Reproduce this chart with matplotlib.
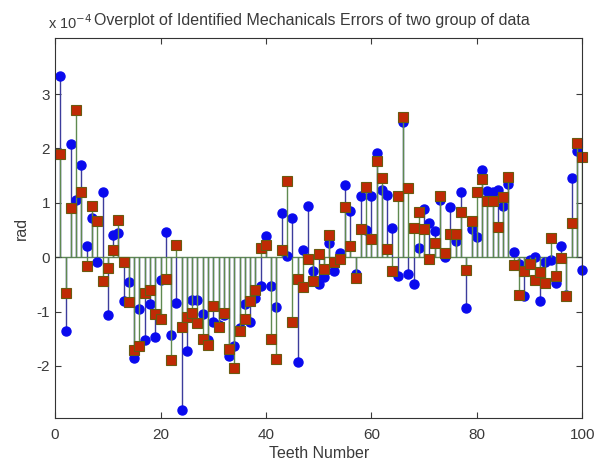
import numpy as np
import matplotlib
matplotlib.use('Agg')
import matplotlib.pyplot as plt
from matplotlib.ticker import FuncFormatter

plt.rcParams['font.family'] = ['Liberation Sans', 'DejaVu Sans']

teeth = np.arange(1, 101)

# errors of the two groups, in units of 1e-4 rad
group_a = [3.34, -1.35, 2.09, 1.06, 1.69, 0.21, 0.72, -0.08, 1.20, -1.06,
           0.41, 0.44, -0.81, -0.46, -1.85, -0.95, -1.52, -0.86, -1.47, -0.42,
           0.47, -1.44, -0.84, -2.82, -1.72, -0.79, -0.79, -1.05, -1.52, -1.20,
           -1.25, -1.06, -1.81, -1.64, -1.30, -0.87, -1.20, -0.75, -0.53, 0.39,
           -0.53, -0.92, 0.81, 0.02, 0.72, -1.93, 0.13, 0.95, -0.25, -0.50,
           -0.37, 0.26, -0.25, 0.07, 1.32, 0.85, -0.31, 1.12, 0.50, 1.12,
           1.91, 1.24, 1.15, 0.54, -0.35, 2.48, -0.31, -0.49, 0.17, 0.89,
           0.63, 0.49, 1.06, 0.01, 0.92, 0.29, 1.20, -0.94, 0.52, 0.38,
           1.61, 1.21, 1.20, 1.24, 0.94, 1.34, 0.09, -0.12, -0.71, -0.06,
           0.01, -0.81, -0.09, -0.05, -0.47, 0.21, -0.70, 1.45, 1.96, -0.23]

group_b = [1.89, -0.66, 0.90, 2.70, 1.20, -0.16, 0.95, 0.66, -0.44, -0.20,
           0.13, 0.69, -0.08, -0.83, -1.70, -1.64, -0.66, -0.60, -1.04, -1.13,
           -0.40, -1.89, 0.23, -1.28, -1.10, -1.03, -1.21, -1.51, -1.61, -0.90,
           -1.29, -1.03, -1.69, -2.04, -1.35, -1.13, -0.81, -0.60, 0.17, 0.23,
           -1.50, -1.87, 0.13, 1.41, -1.20, -0.40, -0.54, -0.03, -0.44, 0.05,
           -0.22, 0.41, -0.09, -0.03, 0.92, 0.21, -0.38, 0.52, 1.29, 0.33,
           1.77, 1.45, 0.15, -0.26, 1.12, 2.58, 1.28, 0.54, 0.83, 0.52,
           -0.04, 0.26, 1.12, 0.07, 0.42, 0.42, 0.83, -0.23, 0.67, 1.20,
           1.43, 1.04, 1.04, 0.56, 1.10, 1.47, -0.15, -0.70, -0.25, -0.13,
           -0.42, -0.28, -0.48, 0.35, -0.34, -0.01, -0.71, 0.63, 2.10, 1.85]

scale = 1e-4
a = np.array(group_a) * scale
b = np.array(group_b) * scale

fig = plt.figure(figsize=(5.99, 4.65), dpi=100)
ax = fig.add_axes([0.092, 0.101, 0.88, 0.817])

s1 = ax.stem(teeth, a, basefmt=' ')
plt.setp(s1.stemlines, color='#3c3c9c', linewidth=1.0)
plt.setp(s1.markerline, marker='o', color='#0a0aee', markersize=6.5,
         markeredgecolor='#0a0aee', clip_on=False)

s2 = ax.stem(teeth, b, basefmt=' ')
plt.setp(s2.stemlines, color='#5f8a50', linewidth=1.0)
plt.setp(s2.markerline, marker='s', color='#c02a05', markersize=6.5,
         markeredgecolor='#6a5a10', markeredgewidth=0.8, clip_on=False)

ax.axhline(0, color='#5f8a50', linewidth=1.0, zorder=1)

ax.set_xlim(0, 100)
ax.set_ylim(-2.96 * scale, 4.03 * scale)
ax.set_xticks(np.arange(0, 101, 20))
ax.set_yticks(np.arange(-2, 4) * scale)
ax.yaxis.set_major_formatter(FuncFormatter(lambda v, p: '%g' % round(v / scale)))
ax.tick_params(direction='in', top=True, right=True, labelsize=11,
               colors='#3a3a3a', length=4)
ax.tick_params(axis='x', pad=7)
for sp in ax.spines.values():
    sp.set_color('#333333')

ax.set_xlabel('Teeth Number', fontsize=11.5, color='#3a3a3a', labelpad=3)
ax.set_ylabel('rad', fontsize=11.5, color='#3a3a3a', labelpad=6)

fig.text(0.08, 0.951, r'x 10$^{-4}$', fontsize=10.5, color='#3a3a3a',
         ha='left', va='center')
fig.text(0.157, 0.955, 'Overplot of Identified Mechanicals Errors of two group of data',
         fontsize=11.5, color='#3a3a3a', ha='left', va='center')

fig.savefig('out.png', dpi=100)
